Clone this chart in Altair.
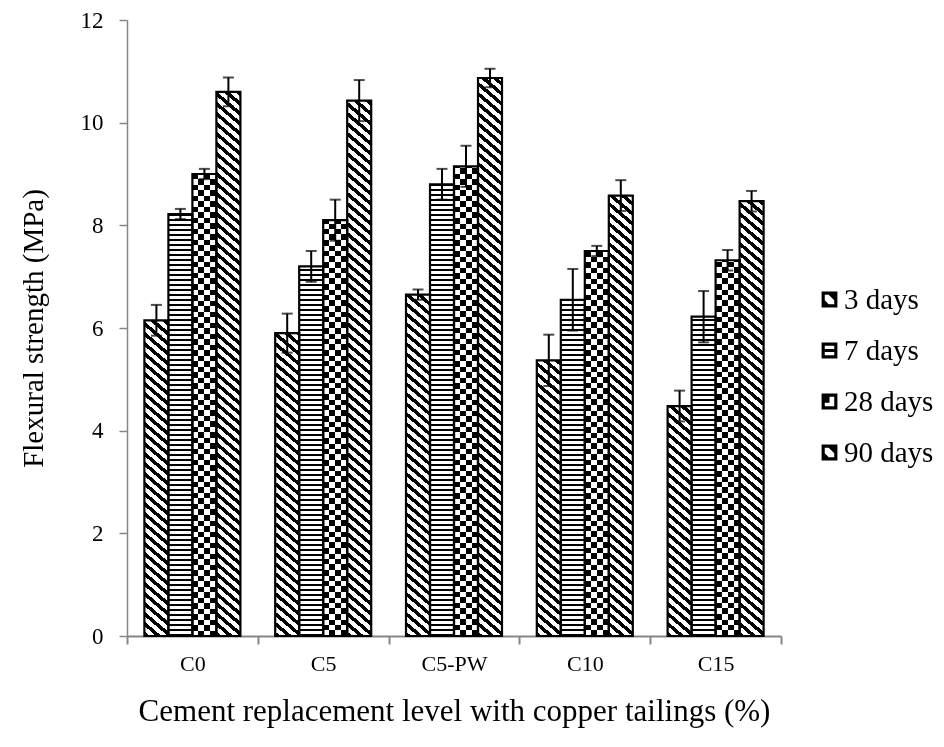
import altair as alt

# ---------------- data ----------------
categories = ["C0", "C5", "C5-PW", "C10", "C15"]
series = ["3 days", "7 days", "28 days", "90 days"]
strength_3d = [6.15, 5.90, 6.65, 5.37, 4.48]
strength_7d = [8.22, 7.20, 8.80, 6.55, 6.22]
strength_28d = [9.00, 8.10, 9.15, 7.50, 7.32]
strength_90d = [10.60, 10.43, 10.87, 8.58, 8.47]
error_3d = [0.30, 0.38, 0.10, 0.50, 0.30]
error_7d = [0.10, 0.30, 0.30, 0.60, 0.50]
error_28d = [0.10, 0.40, 0.40, 0.10, 0.20]
error_90d = [0.28, 0.40, 0.18, 0.30, 0.20]
y_ticks = [0, 2, 4, 6, 8, 10, 12]

# ---------------- layout / style constants ----------------
W, H = 654, 616
YMAX = 12
OUTER = 0.725
PX = H / YMAX
BAR_W = W / len(categories) / (len(series) + 2 * OUTER)
FONT = "Liberation Serif"
GREY = "#868686"


def stripe_stops(length, period, black, offset=0.0):
    stops = [{"offset": 0.0, "color": "white"}]
    start = offset
    while start < length:
        a = round(max(start, 0.0) / length, 5)
        b = round(min(start + black, length) / length, 5)
        stops += [
            {"offset": a, "color": "white"},
            {"offset": a, "color": "black"},
            {"offset": b, "color": "black"},
            {"offset": b, "color": "white"},
        ]
        start += period
    stops.append({"offset": 1.0, "color": "white"})
    return stops


def diagonal(h, w, m=0.85, period=10.0, black=4.6):
    L = h + m * w
    s = L / (m * m * w * w + h * h)
    return {"gradient": "linear", "x1": 0, "y1": 1,
            "x2": round(m * w * s, 6), "y2": round(1 - h * s, 6),
            "stops": stripe_stops(L, period, black)}


def horizontal(h, period, black):
    return {"gradient": "linear", "x1": 0, "y1": 1, "x2": 0, "y2": 0,
            "stops": stripe_stops(h, period, black)}


vertical_cells = {"gradient": "linear", "x1": 0, "y1": 0, "x2": 1, "y2": 0,
                  "stops": stripe_stops(BAR_W, BAR_W / 2, BAR_W / 4, BAR_W / 4)}

values = [strength_3d, strength_7d, strength_28d, strength_90d]
errors = [error_3d, error_7d, error_28d, error_90d]

rows = []
for si, s in enumerate(series):
    for ci, c in enumerate(categories):
        v = values[si][ci]
        e = errors[si][ci]
        h = v * PX
        if s == "7 days":
            g = horizontal(h, 5.0, 2.2)
        elif s == "28 days":
            g = horizontal(h, 11.0, 5.5)
        else:
            g = diagonal(h, BAR_W)
        rows.append({"cat": c, "series": s, "val": v, "lo": v - e, "hi": v + e, "grad": g})

data = alt.Data(values=rows)

yscale = alt.Scale(domain=[0, YMAX], nice=False)
yaxis = alt.Axis(values=y_ticks, format="d", grid=False, tickSize=8, tickColor=GREY,
                 tickWidth=1.5, domainColor=GREY, domainWidth=1.5, labelFontSize=23,
                 labelColor="black", labelPadding=16, titleFontSize=29,
                 titleFontWeight="normal", titleColor="black", titlePadding=32)
xaxis = alt.Axis(labelAngle=0, tickBand="extent", tickSize=8, tickColor=GREY, tickWidth=2,
                 domainColor=GREY, domainWidth=2, labelFontSize=22, labelColor="black",
                 labelPadding=9, titleFontSize=31, titleFontWeight="normal",
                 titleColor="black", titlePadding=22, grid=False)


def ycol(field):
    return alt.Y(f"{field}:Q", scale=yscale, axis=yaxis, title="Flexural strength (MPa)")


base = alt.Chart(data).encode(
    x=alt.X("cat:N", sort=categories, scale=alt.Scale(paddingInner=0, paddingOuter=0),
            axis=xaxis, title="Cement replacement level with copper tailings (%)"),
    xOffset=alt.XOffset("series:N", sort=series,
                        scale=alt.Scale(paddingInner=0, paddingOuter=OUTER)),
)

bars = base.mark_bar(strokeWidth=0).encode(
    y=ycol("val"),
    fill=alt.Fill("grad:N", scale=None),
)

checker = base.transform_filter(alt.datum.series == "28 days").mark_bar(
    strokeWidth=0, blend="difference"
).encode(
    y=ycol("val"),
    fill=alt.value(vertical_cells),
)

outline = base.mark_bar(fillOpacity=0, stroke="black", strokeWidth=2.2).encode(
    y=ycol("val"),
)

rule = base.mark_rule(color="black", strokeWidth=2).encode(
    y=ycol("lo"), y2="hi:Q"
)
cap_hi = base.mark_tick(color="black", thickness=2, size=11).encode(y=ycol("hi"))
cap_lo = base.mark_tick(color="black", thickness=2, size=11).encode(y=ycol("lo"))

icon_3 = "M-1,-1H1V1H-1Z M-0.6,-0.6V0.6H0.6V-0.6Z M-0.1,-0.6H0.6V0.1Z M-0.6,0.1L-0.1,0.6H-0.6Z"
icon_7 = "M-1,-1H1V1H-1Z M-0.6,-0.6V0.6H0.6V-0.6Z M-0.6,-0.2H0.6V0.2H-0.6Z"
icon_28 = "M-1,-1H1V1H-1Z M-0.6,-0.6V0.6H0.6V-0.6Z M-0.6,-0.6H0V0.15H-0.6Z"
icon_90 = "M-1,-1H1V1H-1Z M-0.6,-0.6V0.6H0.6V-0.6Z M-0.1,-0.6H0.6V0.1Z M-0.6,0.1L-0.1,0.6H-0.6Z"

legend_pts = base.mark_point(filled=True, opacity=0, color="black", size=10).encode(
    y=ycol("val"),
    shape=alt.Shape("series:N", sort=series,
                    scale=alt.Scale(domain=series, range=[icon_3, icon_7, icon_28, icon_90]),
                    legend=alt.Legend(title=None, orient="none", legendX=688, legendY=265,
                                      symbolSize=250, symbolFillColor="black",
                                      symbolStrokeWidth=0, symbolOpacity=1,
                                      labelFont=FONT, labelFontSize=29, labelColor="black",
                                      labelOffset=0, labelLimit=200, rowPadding=21)),
)

chart = alt.layer(legend_pts, bars, checker, outline, rule, cap_hi, cap_lo).properties(
    width=W, height=H,
    autosize=alt.AutoSizeParams(type="none"),
    padding={"left": 119, "top": 12, "right": 154, "bottom": 95},
).configure(font=FONT).configure_view(stroke=None)

chart.save("out.html", embed_options={"renderer": "svg", "actions": False})
